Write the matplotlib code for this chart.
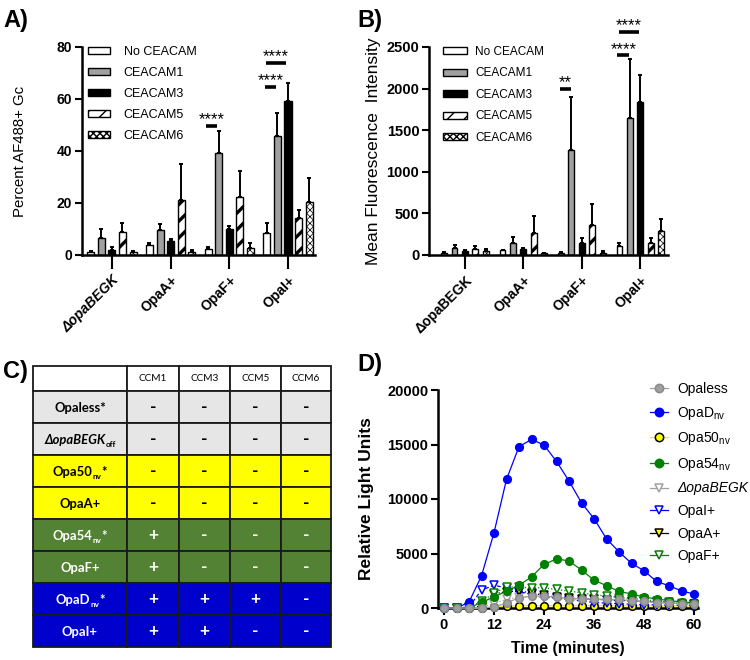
import matplotlib
matplotlib.use('Agg')
import matplotlib.pyplot as plt
import matplotlib.transforms as mtransforms
from matplotlib.patches import Patch, Rectangle
from matplotlib.lines import Line2D
import numpy as np

plt.rcParams['font.family'] = ['Liberation Sans', 'DejaVu Sans']

# ---------------- data ----------------
groups = ['ΔopaBEGK', 'OpaA+', 'OpaF+', 'OpaI+']
series_names = ['No CEACAM', 'CEACAM1', 'CEACAM3', 'CEACAM5', 'CEACAM6']

# Panel A: Percent AF488+ Gc (mean, SD) per series across groups
pct_no = [1.0, 4.0, 2.5, 8.5]
pct_c1 = [6.5, 9.8, 39.2, 45.7]
pct_c3 = [2.0, 5.5, 10.0, 59.3]
pct_c5 = [9.0, 21.3, 22.3, 14.2]
pct_c6 = [1.0, 1.0, 2.7, 20.2]
pct_no_sd = [0.5, 0.8, 0.5, 3.7]
pct_c1_sd = [3.5, 2.0, 8.6, 8.9]
pct_c3_sd = [1.0, 0.8, 1.0, 6.7]
pct_c5_sd = [3.5, 13.7, 9.9, 3.1]
pct_c6_sd = [0.5, 1.0, 2.1, 9.4]

# Panel B: Mean Fluorescence Intensity
mfi_no = [30, 55, 30, 105]
mfi_c1 = [85, 150, 1265, 1645]
mfi_c3 = [50, 75, 150, 1840]
mfi_c5 = [75, 265, 360, 140]
mfi_c6 = [45, 20, 30, 285]
mfi_no_sd = [10, 10, 10, 35]
mfi_c1_sd = [30, 65, 630, 705]
mfi_c3_sd = [15, 15, 55, 325]
mfi_c5_sd = [30, 205, 255, 60]
mfi_c6_sd = [25, 10, 20, 145]

# significance annotations: (x1, x2, y, label)
sig_a = [(1.61, 1.79, 49.7, '****'), (2.61, 2.79, 64.6, '****'), (2.62, 2.97, 73.8, '****')]
sig_b = [(1.62, 1.82, 1994, '**'), (2.61, 2.81, 2400, '****'), (2.64, 2.98, 2680, '****')]

# Panel C table
table_cols = ['CCM1', 'CCM3', 'CCM5', 'CCM6']
table_rows = [
    [('Opaless*', 'n')],
    [('ΔopaBEGK', 'it'), ('off', 'sub')],
    [('Opa50', 'n'), ('nv', 'sub'), ('*', 'n')],
    [('OpaA+', 'n')],
    [('Opa54', 'n'), ('nv', 'sub'), ('*', 'n')],
    [('OpaF+', 'n')],
    [('OpaD', 'n'), ('nv', 'sub'), ('*', 'n')],
    [('OpaI+', 'n')],
]
table_binding = [
    ['-', '-', '-', '-'],
    ['-', '-', '-', '-'],
    ['-', '-', '-', '-'],
    ['-', '-', '-', '-'],
    ['+', '-', '-', '-'],
    ['+', '-', '-', '-'],
    ['+', '+', '+', '-'],
    ['+', '+', '-', '-'],
]
table_fill = ['#E7E6E6', '#E7E6E6', '#FFFF00', '#FFFF00',
              '#548235', '#548235', '#0000CC', '#0000CC']
table_text = ['black', 'black', 'black', 'black', 'white', 'white', 'white', 'white']

# Panel D: Relative light units over time
time_min = [0, 3, 6, 9, 12, 15, 18, 21, 24, 27, 30, 33, 36, 39, 42, 45, 48, 51, 54, 57, 60]
rlu_opaless = [0, 0, 0, 0, 90, 470, 940, 1090, 1090, 990, 870, 840, 840, 780, 780, 680, 620, 470, 470, 400, 370]
rlu_opad = [0, 0, 540, 2950, 6900, 11800, 14800, 15470, 14950, 13450, 11650, 9650, 8200, 6350, 5150, 4100, 3420, 2440, 2040, 1570, 1280]
rlu_opa50 = [0, 0, 0, 0, 120, 200, 210, 220, 220, 210, 220, 220, 220, 220, 210, 210, 200, 200, 190, 190, 180]
rlu_opa54 = [0, 0, 0, 520, 1000, 1550, 2080, 2850, 4000, 4500, 4320, 3480, 2560, 2050, 1530, 1280, 1000, 830, 680, 560, 470]
rlu_dopabegk = [0, 0, 0, 100, 400, 800, 1000, 1000, 950, 900, 850, 800, 780, 750, 700, 650, 600, 550, 500, 450, 400]
rlu_opai = [0, 0, 100, 1650, 2080, 1850, 1500, 1250, 1050, 900, 750, 650, 500, 450, 400, 350, 300, 300, 250, 250, 200]
rlu_opaa = [0, 0, 0, 200, 1300, 1500, 1550, 1400, 1150, 1000, 900, 850, 800, 750, 700, 650, 600, 550, 450, 400, 350]
rlu_opaf = [0, 0, 50, 600, 1350, 1950, 1900, 1850, 1850, 1700, 1550, 1400, 1200, 1100, 950, 870, 780, 620, 530, 400, 310]

# ---------------- figure ----------------
W, H = 750, 660
fig = plt.figure(figsize=(7.5, 6.6), dpi=100)


def fax(l, t, r, b):
    return fig.add_axes([l / W, 1 - b / H, (r - l) / W, (b - t) / H])


bar_fc = ['white', '#A0A0A0', 'black', 'white', 'white']
bar_hatch = [None, None, None, '//', 'xxxxx']
bar_hlw = [1.0, 1.0, 1.0, 2.4, 0.5]


def style_axes(ax):
    for s in ['top', 'right']:
        ax.spines[s].set_visible(False)
    for s in ['left', 'bottom']:
        ax.spines[s].set_linewidth(1.8)


def bar_panel(ax, means, sds, stride, width, xlim, ylim, yticks, ylabel, ylab_fs,
              ylab_x, italic_first, tick_fs, sigs, sig_dy, leg_fs, leg_kw):
    handles = []
    for j, (m, s) in enumerate(zip(means, sds)):
        x = np.arange(len(groups)) + (j - 2) * stride
        with plt.rc_context({'hatch.linewidth': bar_hlw[j]}):
            bars = ax.bar(x, m, width, color=bar_fc[j], edgecolor='black',
                          linewidth=1.0, hatch=bar_hatch[j], zorder=2)
            for p in bars.patches:
                if hasattr(p, 'set_hatch_linewidth'):
                    p.set_hatch_linewidth(bar_hlw[j])
            h = Patch(facecolor=bar_fc[j], edgecolor='black', linewidth=1.0,
                      hatch=bar_hatch[j], label=series_names[j])
            if hasattr(h, 'set_hatch_linewidth'):
                h.set_hatch_linewidth(bar_hlw[j])
        handles.append(h)
        ax.errorbar(x, m, yerr=[np.zeros(len(m)), s], fmt='none', ecolor='black',
                    elinewidth=1.4, capsize=1.6, capthick=1.4, zorder=3)
    ax.set_xlim(*xlim)
    ax.set_ylim(*ylim)
    style_axes(ax)
    ax.set_yticks(yticks, labels=[str(v) for v in yticks], fontweight='bold', fontsize=tick_fs)
    ax.set_xticks(range(len(groups)), labels=groups, rotation=45, ha='right',
                  rotation_mode='anchor', fontweight='bold', fontsize=10)
    if italic_first:
        ax.get_xticklabels()[0].set_fontstyle('italic')
    ax.tick_params(axis='y', length=5, width=1.5, pad=2)
    ax.tick_params(axis='x', length=10, width=1.5, pad=3)
    ax.set_ylabel(ylabel, fontsize=ylab_fs)
    ax.yaxis.set_label_coords(ylab_x, 0.5)
    for x1, x2, y, lab in sigs:
        ax.plot([x1, x2], [y, y], color='black', lw=2.6, solid_capstyle='butt', clip_on=False, zorder=4)
        ax.text((x1 + x2) / 2, y + sig_dy, lab, ha='center', va='baseline', fontsize=12,
                clip_on=False)
    leg = ax.legend(handles=handles, frameon=False, fontsize=leg_fs, loc='upper left',
                    bbox_transform=fig.transFigure, borderaxespad=0, borderpad=0, **leg_kw)
    return leg


axA = fax(82, 47, 315, 255)
bar_panel(axA, [pct_no, pct_c1, pct_c3, pct_c5, pct_c6],
          [pct_no_sd, pct_c1_sd, pct_c3_sd, pct_c5_sd, pct_c6_sd],
          0.18, 0.12, (-0.51, 3.46), (0, 80), [0, 20, 40, 60, 80],
          'Percent AF488+ Gc', 10.8, -0.236, True, 10, sig_a, 0.6, 9,
          dict(bbox_to_anchor=(88 / W, 1 - 46 / H), handlelength=1.76, handleheight=0.45,
               handletextpad=1.1, labelspacing=0.72))

axB = fax(429, 47, 668, 255)
bar_panel(axB, [mfi_no, mfi_c1, mfi_c3, mfi_c5, mfi_c6],
          [mfi_no_sd, mfi_c1_sd, mfi_c3_sd, mfi_c5_sd, mfi_c6_sd],
          0.178, 0.10, (-0.615, 3.475), (0, 2500), [0, 500, 1000, 1500, 2000, 2500],
          'Mean Fluorescence  Intensity', 12.5, -0.20, False, 10.5, sig_b, 20, 8.5,
          dict(bbox_to_anchor=(443 / W, 1 - 46 / H), handlelength=2.0, handleheight=0.5,
               handletextpad=0.7, labelspacing=0.8))

# ---------------- Panel C: table ----------------
col_edges = [33.3, 126.7, 179, 230, 280.7, 331]
row_edges = [366, 391, 423.3, 455, 486.7, 519, 551, 583.3, 615, 646.7]
axC = fax(col_edges[0], row_edges[0], col_edges[-1], row_edges[-1])
axC.set_xlim(col_edges[0], col_edges[-1])
axC.set_ylim(row_edges[-1], row_edges[0])
axC.axis('off')
tfam = ['Lato', 'DejaVu Sans']
layout_jobs = []


def rich(ax, xc, yc, parts, color, size):
    items = []
    for s, kind in parts:
        sub = kind == 'sub'
        fs = size * 0.62 if sub else size
        t = ax.text(xc, yc, s, fontsize=fs, fontweight='bold',
                    fontstyle='italic' if kind == 'it' else 'normal',
                    color=color, family=tfam, ha='left', va='baseline')
        items.append((t, -2.4 if sub else 0.0))
    layout_jobs.append((ax, items))


lbl_size = 9.4
for i in range(len(row_edges) - 1):
    y0, y1 = row_edges[i], row_edges[i + 1]
    yc = (y0 + y1) / 2
    for j in range(len(col_edges) - 1):
        x0, x1 = col_edges[j], col_edges[j + 1]
        fc = 'white' if i == 0 else table_fill[i - 1]
        axC.add_patch(Rectangle((x0, y0), x1 - x0, y1 - y0, facecolor=fc,
                                edgecolor='#1a1a1a', linewidth=1.3, clip_on=False))
        xc = (x0 + x1) / 2
        if i == 0 and j > 0:
            axC.text(xc, yc, table_cols[j - 1], ha='center', va='center', fontsize=7.2,
                     family=tfam, color='black')
        elif i > 0 and j == 0:
            rich(axC, xc, yc + 0.36 * lbl_size * 100 / 72, table_rows[i - 1],
                 table_text[i - 1], lbl_size)
        elif i > 0:
            axC.text(xc, yc, table_binding[i - 1][j - 1], ha='center', va='center',
                     fontsize=12.5, fontweight='bold', family=tfam, color=table_text[i - 1])

# ---------------- Panel D ----------------
axD = fax(438, 390, 698, 608)
style_axes(axD)
d_series = [
    ('Opaless', rlu_opaless, dict(color='#A0A0A0', marker='o', mfc='#A0A0A0', mec='#8a8a8a', ls='-'), 10),
    ('OpaD$_\\mathregular{nv}$', rlu_opad, dict(color='#0000FF', marker='o', mfc='#0000FF', mec='#0000FF', ls='-'), 9),
    ('Opa50$_\\mathregular{nv}$', rlu_opa50, dict(color='#F0F000', marker='o', mfc='#FFFF00', mec='black', ls='-'), 5),
    ('Opa54$_\\mathregular{nv}$', rlu_opa54, dict(color='#008000', marker='o', mfc='#008000', mec='#008000', ls='-'), 8),
    ('ΔopaBEGK', rlu_dopabegk, dict(color='#A0A0A0', marker='v', mfc='white', mec='#A0A0A0', ls=':'), 6),
    ('OpaI+', rlu_opai, dict(color='#0000FF', marker='v', mfc='white', mec='#0000FF', ls=(0, (3, 2))), 6),
    ('OpaA+', rlu_opaa, dict(color='black', marker='v', mfc='#FFFF00', mec='black', ls=':'), 6),
    ('OpaF+', rlu_opaf, dict(color='#008000', marker='v', mfc='white', mec='#008000', ls=':'), 7),
]
d_handles = []
for name, vals, st, z in d_series:
    axD.plot(time_min, vals, lw=0.9, ms=5.5, mew=1.1, clip_on=False, zorder=z, **st)
    hst = dict(st)
    hst['ls'] = '-'
    d_handles.append(Line2D([], [], lw=0.9, ms=6, mew=1.1, label=name, **hst))
axD.set_xlim(-1.44, 60.96)
axD.set_ylim(0, 20000)
axD.set_xticks([0, 12, 24, 36, 48, 60], labels=['0', '12', '24', '36', '48', '60'],
               fontweight='bold', fontsize=10.5)
axD.set_yticks([0, 5000, 10000, 15000, 20000],
               labels=['0', '5000', '10000', '15000', '20000'], fontweight='bold', fontsize=10.5)
axD.tick_params(length=5, width=1.5, pad=2)
axD.set_ylabel('Relative Light Units', fontsize=12.5, fontweight='bold')
axD.yaxis.set_label_coords(-0.245, 0.5)
axD.set_xlabel('Time (minutes)', fontsize=11.5, fontweight='bold')
axD.xaxis.set_label_coords(0.5, -0.15)
legD = axD.legend(handles=d_handles, frameon=False, fontsize=10, loc='upper left',
                  bbox_to_anchor=(650 / W, 1 - 382 / H), bbox_transform=fig.transFigure,
                  borderaxespad=0, borderpad=0, handlelength=1.3, handletextpad=0.65,
                  labelspacing=0.62)
legD.get_texts()[4].set_fontstyle('italic')

# panel letters
for lab, x, y in [('A)', 3, 27), ('B)', 357, 27), ('C)', 3, 378), ('D)', 357, 371)]:
    fig.text(x / W, 1 - y / H, lab, fontsize=17, fontweight='bold', va='baseline', ha='left')

# rich text layout for table labels
fig.canvas.draw()
renderer = fig.canvas.get_renderer()
for ax, items in layout_jobs:
    widths = [t.get_window_extent(renderer).width for t, _ in items]
    cum = -sum(widths) / 2
    for (t, dy), w in zip(items, widths):
        t.set_transform(mtransforms.offset_copy(ax.transData, fig=fig, x=cum * 72 / fig.dpi,
                                                y=dy, units='points'))
        cum += w

fig.savefig('out.png', dpi=100)
